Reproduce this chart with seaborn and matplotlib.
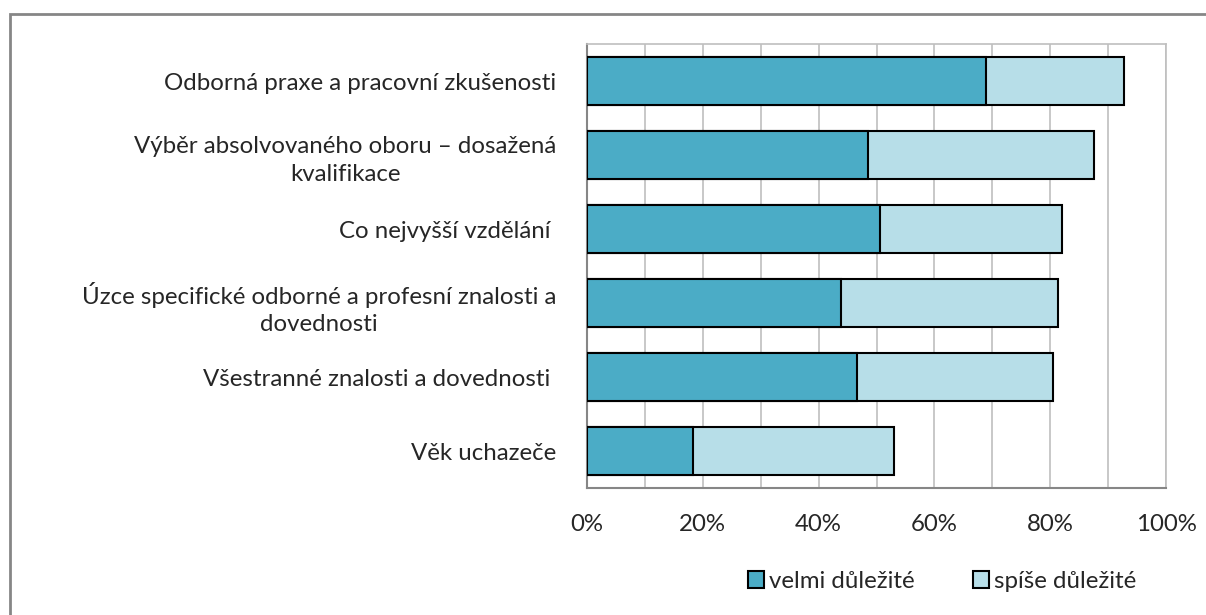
import pandas as pd
import numpy as np
import matplotlib.pyplot as plt
import seaborn as sns
from matplotlib.patches import Rectangle

categories = ['Odborná praxe a pracovní zkušenosti',
              'Výběr absolvovaného oboru – dosažená\nkvalifikace',
              'Co nejvyšší vzdělání ',
              'Úzce specifické odborné a profesní znalosti a\ndovednosti',
              'Všestranné znalosti a dovednosti ',
              'Věk uchazeče']
velmi = [68.9, 48.6, 50.6, 43.9, 46.6, 18.3]
spise = [23.9, 39.0, 31.5, 37.4, 33.9, 34.8]
x_ticks = [0, 20, 40, 60, 80, 100]

df = pd.DataFrame({'kat': categories, 'velmi': velmi, 'spise': spise})
df['celkem'] = df['velmi'] + df['spise']

sns.set_style('white')
plt.rcParams['font.family'] = ['Lato', 'DejaVu Sans']
fs = 17.3

fig = plt.figure(figsize=(12.06, 6.15), dpi=100)
ax = fig.add_axes([587/1206, 1-488/615, (1166-587)/1206, (488-44)/615])

# celkova delka = velmi + spise, tmava cast se kresli pres ni
sns.barplot(data=df, x='celkem', y='kat', orient='h', color='#B7DEE8', saturation=1,
            edgecolor='black', linewidth=1.5, width=0.66, label='spíše důležité', ax=ax, zorder=3)
sns.barplot(data=df, x='velmi', y='kat', orient='h', color='#4BACC6', saturation=1,
            edgecolor='black', linewidth=1.5, width=0.66, label='velmi důležité', ax=ax, zorder=4)

ax.set_xlim(0, 100)
ax.set_xticks(x_ticks)
ax.set_xticklabels([f'{t}%' for t in x_ticks], fontsize=fs)
ax.set_xticks(np.arange(0, 101, 10), minor=True)
ax.grid(axis='x', which='both', color='#BFBFBF', linewidth=1.2, zorder=0)
ax.set_axisbelow(True)
ax.set_xlabel('')
ax.set_ylabel('')

ax.set_yticks(np.arange(-0.5, 6, 1), minor=True)
ax.tick_params(axis='y', which='major', length=0, pad=22, labelsize=fs)
ax.tick_params(axis='y', which='minor', length=6, color='#868686', width=1.2)
ax.tick_params(axis='x', which='major', length=6, color='#868686', width=1.2, pad=13)
ax.tick_params(axis='x', which='minor', length=0)
for lab in ax.get_yticklabels():
    lab.set_multialignment('center')
    lab.set_linespacing(1.4)

for s in ['left', 'bottom']:
    ax.spines[s].set_color('#868686')
    ax.spines[s].set_linewidth(1.5)
for s in ['top', 'right']:
    ax.spines[s].set_color('#BFBFBF')
    ax.spines[s].set_linewidth(1.2)

h, l = ax.get_legend_handles_labels()
ax.legend(h[::-1], l[::-1], loc='center', bbox_to_anchor=(942/1206, 1-581/615),
          bbox_transform=fig.transFigure, ncol=2, frameon=False, fontsize=fs,
          handlelength=0.7, handleheight=0.7, handletextpad=0.2, columnspacing=2.4)

# ramecek grafu
fig.patches.append(Rectangle((10/1206, -0.1), 1.2, 0.1 + 1 - 14/615, transform=fig.transFigure,
                             fill=False, edgecolor='#868686', linewidth=2))

fig.savefig('out.png', dpi=100)
